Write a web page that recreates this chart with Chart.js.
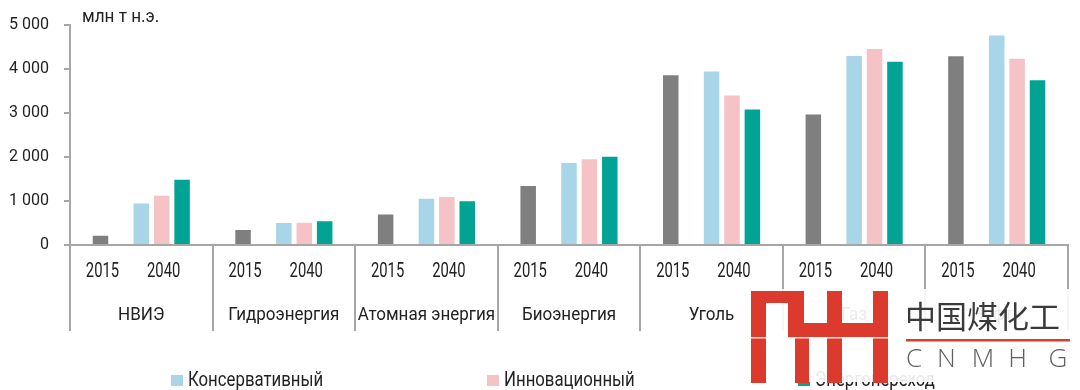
<!DOCTYPE html>
<html><head><meta charset="utf-8">
<script src="https://cdn.jsdelivr.net/npm/chart.js@4.4.1/dist/chart.umd.min.js"></script>
<style>html,body{margin:0;padding:0;background:#fff;overflow:hidden;}#wrap{width:1080px;height:390px;position:relative;}</style>
</head><body><div id="wrap"><canvas id="c" width="1080" height="390"></canvas></div>
<script>
const categories = ['НВИЭ', 'Гидроэнергия', 'Атомная энергия', 'Биоэнергия', 'Уголь', 'Газ', 'Нефть'];
const yearLabels = ['2015', '2040'];
const values2015 = [210, 340, 690, 1340, 3850, 2960, 4280];
const conservative = [940, 500, 1050, 1860, 3935, 4290, 4750];
const innovative = [1120, 505, 1090, 1945, 3390, 4445, 4225];
const transition = [1480, 540, 990, 2000, 3075, 4160, 3740];
const seriesNames = ['Консервативный', 'Инновационный', 'Энергопереход'];
const unitLabel = 'млн т н.э.';
const yMax = 5000;
const yStep = 1000;
const watermarkCN = '中国煤化工';
const watermarkEN = ['C', 'N', 'M', 'H', 'G'];

const FONT = "'Roboto', 'DejaVu Sans Condensed', sans-serif";
const TXT = '#222222';
const AX = '#a6a6a6';
const colors = {y2015: '#7f7f7f', cons: '#a8d6e8', innov: '#f5c2c6', trans: '#00a394'};

const spacer = categories.map(() => null);

function sText(ctx, txt, x, y, sx, align) {
  ctx.save();
  ctx.translate(x, y);
  ctx.scale(sx, 1);
  ctx.textAlign = align;
  ctx.fillText(txt, 0, 0);
  ctx.restore();
}

const overlay = {
  id: 'overlay',
  afterDraw(chart) {
    const ctx = chart.ctx;
    const ca = chart.chartArea;
    const xs = chart.scales.x;
    ctx.save();
    ctx.fillStyle = TXT;
    ctx.textBaseline = 'middle';
    // year labels under the bars
    ctx.font = '20px ' + FONT;
    const m0 = chart.getDatasetMeta(0).data;
    const m3 = chart.getDatasetMeta(3).data;
    categories.forEach((c, i) => {
      sText(ctx, yearLabels[0], m0[i].x + 2, 272, 0.74, 'center');
      sText(ctx, yearLabels[1], m3[i].x + 2, 272, 0.74, 'center');
    });
    // category labels
    ctx.font = '18.5px ' + FONT;
    categories.forEach((c, i) => {
      sText(ctx, c, xs.getPixelForValue(i), 315, 0.92, 'center');
    });
    // unit label
    ctx.font = '19px ' + FONT;
    sText(ctx, unitLabel, ca.left + 12, 17, 0.9, 'left');
    // legend
    const starts = [171, 487, 798];
    ctx.font = '19.5px ' + FONT;
    [2, 3, 4].forEach((di, k) => {
      const ds = chart.data.datasets[di];
      ctx.fillStyle = ds.backgroundColor;
      ctx.fillRect(starts[k], 375, 12, 11);
      ctx.fillStyle = TXT;
      sText(ctx, ds.label, starts[k] + 17, 381, 0.86, 'left');
    });
    // watermark
    ctx.fillStyle = 'rgba(255,255,255,0.9)';
    ctx.fillRect(748, 289, 332, 93);
    ctx.fillStyle = '#dd3a2e';
    const r = [[751,291,15,92],[751,291,50,12],[788,291,16,47],[788,323,54,14],[795,337,14,46],[827,291,15,92],[873,291,15,92],[827,323,61,14]];
    r.forEach(a => ctx.fillRect(a[0], a[1], a[2], a[3]));
    ctx.fillStyle = 'rgba(255,255,255,0.85)';
    ctx.fillRect(751, 337, 137, 1.5);
    ctx.fillStyle = '#3a3a3a';
    ctx.font = "31px 'Noto Sans CJK SC', sans-serif";
    ctx.textAlign = 'left';
    ctx.fillText(watermarkCN, 905, 316);
    ctx.fillStyle = '#dd3a2e';
    ctx.fillRect(906, 339, 164, 2.5);
    ctx.fillStyle = '#606060';
    ctx.font = "300 26px 'Open Sans', sans-serif";
    ctx.textAlign = 'center';
    const cx = [914, 946.5, 983, 1017.5, 1058];
    watermarkEN.forEach((ch, i) => ctx.fillText(ch, cx[i], 360));
    ctx.restore();
  }
};

new Chart(document.getElementById('c'), {
  type: 'bar',
  data: {
    labels: categories,
    datasets: [
      {label: '2015', data: values2015, backgroundColor: colors.y2015},
      {label: '', data: spacer, backgroundColor: 'rgba(0,0,0,0)'},
      {label: seriesNames[0], data: conservative, backgroundColor: colors.cons},
      {label: seriesNames[1], data: innovative, backgroundColor: colors.innov},
      {label: seriesNames[2], data: transition, backgroundColor: colors.trans}
    ]
  },
  options: {
    responsive: false,
    devicePixelRatio: 1,
    animation: false,
    layout: {padding: {top: 15, right: 12, bottom: 59, left: 0}},
    datasets: {bar: {categoryPercentage: 0.7155, barPercentage: 0.76, borderWidth: 0}},
    plugins: {legend: {display: false}, tooltip: {enabled: false}},
    scales: {
      x: {
        type: 'category',
        grid: {offset: true, drawOnChartArea: false, drawTicks: true, tickLength: 86, color: AX, lineWidth: 2},
        border: {display: true, color: AX, width: 2},
        ticks: {display: false},
        afterFit(s) { s.height = 86; }
      },
      y: {
        min: 0, max: yMax,
        grid: {drawOnChartArea: false, drawTicks: true, tickLength: 6, color: AX, lineWidth: 2},
        border: {display: true, color: AX, width: 2},
        ticks: {stepSize: yStep, padding: 15, color: TXT, font: {family: FONT, size: 16},
          callback: v => v === 0 ? '0' : (v / 1000) + ' 000'},
        afterFit(s) { s.width = 70; }
      }
    }
  },
  plugins: [overlay]
});
</script></body></html>
